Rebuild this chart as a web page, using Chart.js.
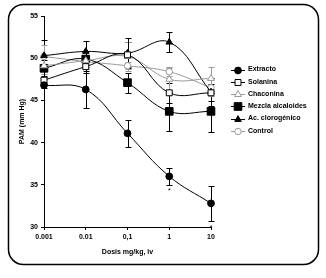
<!DOCTYPE html>
<html><head><meta charset="utf-8">
<script src="https://cdn.jsdelivr.net/npm/chart.js@4"></script>
<style>html,body{margin:0;padding:0;background:#fff;overflow:hidden}</style>
</head><body>
<canvas id="c" width="326" height="278" style="width:326px;height:278px;display:block"></canvas>
<script>
// ---- data ----
const doses = ['0.001', '0.01', '0,1', '1', '10'];
const seriesNames = ['Extracto', 'Solanina', 'Chaconina', 'Mezcla alcaloides', 'Ac. clorogénico', 'Control'];
const extracto      = [46.8, 46.3, 41.1, 36.0, 32.8];
const solanina      = [47.4, 49.0, 50.4, 45.9, 45.9];
const chaconina     = [49.1, 49.7, 50.2, 47.5, 47.6];
const mezcla        = [48.8, 49.9, 47.1, 43.7, 43.7];
const clorogenico   = [50.3, 50.8, 50.6, 51.9, 46.0];
const control       = [50.2, 49.6, 49.1, 48.4, 46.5];
const extractoErr    = [0.3, 2.2, 1.6, 1.0, 2.1];
const solaninaErr    = [0.5, 0.8, 1.5, 1.2, 1.0];
const chaconinaErr   = [1.0, 1.0, 1.7, 1.3, 1.3];
const mezclaErr      = [1.0, 1.0, 1.2, 2.3, 2.4];
const clorogenicoErr = [1.8, 1.2, 1.8, 1.2, 1.7];
const controlErr     = [1.4, 0.6, 0.4, 0.5, 1.0];
const extractoSig    = ['', '', '', '*', '*'];
const yTicks = [30, 35, 40, 45, 50, 55];

const FONT = "'Liberation Sans', Arial, sans-serif";
const GRAY = '#9a9a9a';

function ds(label, data, errs, color, style, radius, filled) {
  return {
    label, data, errs,
    borderColor: color, borderWidth: 1,
    pointStyle: style, pointRadius: radius, pointHoverRadius: radius,
    pointBackgroundColor: filled ? color : '#fff',
    pointBorderColor: color, pointBorderWidth: 1,
    tension: 0.4, fill: false, clip: false
  };
}

const datasets = [
  ds(seriesNames[0], extracto, extractoErr, '#000', 'circle', 3.4, true),
  ds(seriesNames[1], solanina, solaninaErr, '#000', 'rect', 4.2, false),
  ds(seriesNames[2], chaconina, chaconinaErr, GRAY, 'triangle', 4, false),
  ds(seriesNames[3], mezcla, mezclaErr, '#000', 'rect', 5.4, true),
  ds(seriesNames[4], clorogenico, clorogenicoErr, '#000', 'triangle', 3.8, true),
  ds(seriesNames[5], control, controlErr, GRAY, 'circle', 3.2, false)
];
datasets[0].sig = extractoSig;

const frame = {
  id: 'frame',
  beforeDraw(chart) {
    const ctx = chart.ctx;
    ctx.save();
    ctx.fillStyle = '#fff';
    ctx.fillRect(0, 0, chart.width, chart.height);
    ctx.beginPath();
    ctx.roundRect(8.5, 4.5, 310, 260, 15);
    ctx.lineWidth = 1.5;
    ctx.strokeStyle = '#000';
    ctx.stroke();
    ctx.restore();
  }
};

const errBars = {
  id: 'errBars',
  beforeDatasetsDraw(chart) {
    const {ctx, scales: {x, y}} = chart;
    ctx.save();
    ctx.lineWidth = 1;
    chart.data.datasets.forEach(d => {
      ctx.strokeStyle = d.borderColor;
      d.data.forEach((v, j) => {
        const e = d.errs[j];
        if (!e) return;
        const px = Math.round(x.getPixelForValue(j)) + 0.5;
        const y1 = Math.round(y.getPixelForValue(v + e)) + 0.5;
        const y2 = Math.round(y.getPixelForValue(v - e)) + 0.5;
        ctx.beginPath();
        ctx.moveTo(px, y1); ctx.lineTo(px, y2);
        ctx.moveTo(px - 3, y1); ctx.lineTo(px + 3, y1);
        ctx.moveTo(px - 3, y2); ctx.lineTo(px + 3, y2);
        ctx.stroke();
      });
    });
    ctx.restore();
  },
  afterDatasetsDraw(chart) {
    const {ctx, scales: {x, y}} = chart;
    ctx.save();
    ctx.fillStyle = '#000';
    ctx.font = '7px ' + FONT;
    ctx.textAlign = 'center';
    ctx.textBaseline = 'top';
    chart.data.datasets.forEach(d => {
      if (!d.sig) return;
      d.sig.forEach((s, j) => {
        if (!s) return;
        const px = x.getPixelForValue(j);
        const py = y.getPixelForValue(d.data[j] - d.errs[j]);
        ctx.fillText(s, px, py + 3);
      });
    });
    ctx.restore();
  }
};

const legendPlugin = {
  id: 'sideLegend',
  afterDraw(chart) {
    const ctx = chart.ctx;
    ctx.save();
    const x0 = 231, x1 = 245, xt = 248, y0 = 69.5, step = 12.25;
    chart.data.datasets.forEach((d, i) => {
      const yy = y0 + i * step;
      ctx.strokeStyle = d.borderColor;
      ctx.lineWidth = 1;
      ctx.beginPath();
      ctx.moveTo(x0, Math.round(yy) + 0.5);
      ctx.lineTo(x1, Math.round(yy) + 0.5);
      ctx.stroke();
      ctx.fillStyle = d.pointBackgroundColor;
      ctx.strokeStyle = d.pointBorderColor;
      Chart.helpers.drawPoint(ctx, {pointStyle: d.pointStyle, radius: d.pointRadius, borderWidth: 1, rotation: 0}, (x0 + x1) / 2, Math.round(yy) + 0.5);
      ctx.fillStyle = '#000';
      ctx.font = 'bold 7px ' + FONT;
      ctx.textAlign = 'left';
      ctx.textBaseline = 'middle';
      ctx.fillText(d.label, xt, yy);
    });
    ctx.restore();
  }
};

new Chart(document.getElementById('c'), {
  type: 'line',
  data: { labels: doses, datasets },
  plugins: [frame, errBars, legendPlugin],
  options: {
    responsive: false,
    animation: false,
    devicePixelRatio: 1,
    layout: { padding: { left: 0, right: 115, top: 16, bottom: 0 } },
    plugins: { legend: { display: false }, tooltip: { enabled: false } },
    scales: {
      x: {
        type: 'category',
        offset: false,
        border: { display: true, color: '#000', width: 1 },
        grid: { display: true, drawOnChartArea: false, drawTicks: true, tickLength: 3, color: '#000' },
        ticks: { color: '#000', font: { family: FONT, size: 7, weight: 'bold' }, padding: 3, autoSkip: false, maxRotation: 0 },
        title: { display: true, text: 'Dosis mg/kg, iv', color: '#000', font: { family: FONT, size: 7, weight: 'bold' }, padding: { top: 0, bottom: 22 } },
        afterFit(s) { s.height = 51; }
      },
      y: {
        min: 30, max: 55,
        afterBuildTicks(s) { s.ticks = yTicks.map(v => ({ value: v })); },
        border: { display: true, color: '#000', width: 1 },
        grid: { display: true, drawOnChartArea: false, drawTicks: true, tickLength: 3, color: '#000' },
        ticks: { color: '#000', font: { family: FONT, size: 7, weight: 'bold' }, padding: 3 },
        title: { display: true, text: 'PAM (mm Hg)', color: '#000', font: { family: FONT, size: 7, weight: 'bold' }, padding: { top: 18, bottom: 0 } },
        afterFit(s) { s.width = 44; }
      }
    }
  }
});
</script>
</body></html>
